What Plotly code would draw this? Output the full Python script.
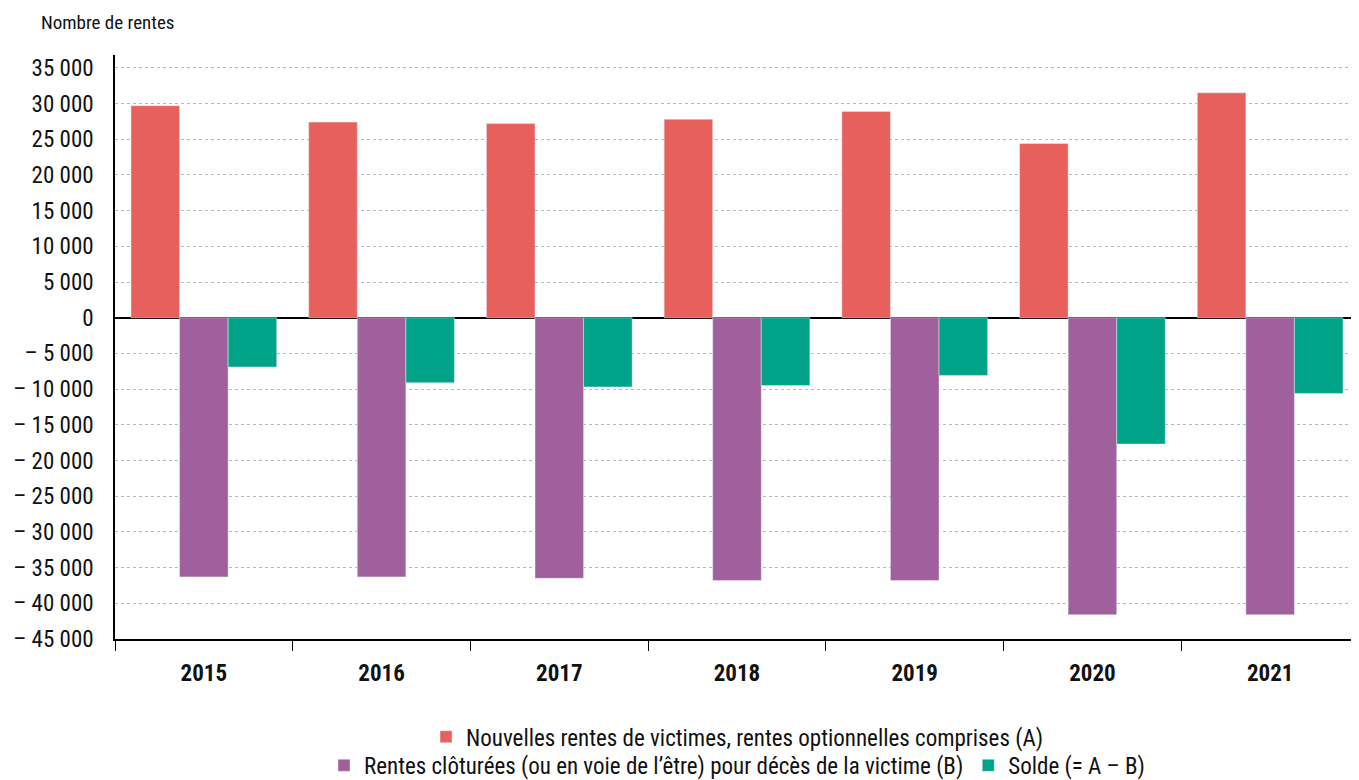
import plotly.graph_objects as go

years = ['2015', '2016', '2017', '2018', '2019', '2020', '2021']
nouvelles = [29700, 27400, 27200, 27800, 28900, 24400, 31500]
cloturees = [-36300, -36300, -36500, -36800, -36800, -41600, -41600]
solde = [-6900, -9100, -9700, -9500, -8100, -17700, -10600]

ytick_vals = [35000, 30000, 25000, 20000, 15000, 10000, 5000, 0, -5000, -10000,
              -15000, -20000, -25000, -30000, -35000, -40000, -45000]
ytick_text = ['35 000', '30 000', '25 000', '20 000', '15 000', '10 000', '5 000', '0',
              '\u2013 5 000', '\u2013 10 000', '\u2013 15 000', '\u2013 20 000', '\u2013 25 000',
              '\u2013 30 000', '\u2013 35 000', '\u2013 40 000', '\u2013 45 000']

FONT = 'Liberation Sans Narrow, Arial Narrow, Roboto Condensed, Liberation Sans, Arial'

fig = go.Figure()
fig.add_trace(go.Bar(x=years, y=nouvelles, name='Nouvelles rentes de victimes, rentes optionnelles comprises (A)',
                     marker={'color': '#e8605c'}, legend='legend'))
fig.add_trace(go.Bar(x=years, y=cloturees, name='Rentes clôturées (ou en voie de l\u2019être) pour décès de la victime (B)',
                     marker={'color': '#a0609c'}, legend='legend2'))
fig.add_trace(go.Bar(x=years, y=solde, name='Solde (= A \u2013 B)',
                     marker={'color': '#00a388'}, legend='legend2'))

# page body has an 8px margin, so the figure is 8px smaller than the window
fig.update_layout(
    width=1351, height=772,
    margin=dict(l=107, r=0, t=47, b=141),
    paper_bgcolor='white', plot_bgcolor='white',
    font=dict(family=FONT, size=23, color='#111111'),
    barmode='group', bargap=0.18, bargroupgap=0,
    showlegend=True,
    legend=dict(visible=True, orientation='h', xref='paper', x=0.5, xanchor='center',
                yref='container', y=0.056, yanchor='middle', bgcolor='rgba(0,0,0,0)',
                font=dict(size=23), traceorder='normal'),
    legend2=dict(visible=True, orientation='h', xref='paper', x=0.5, xanchor='center',
                 yref='container', y=0.019, yanchor='middle', bgcolor='rgba(0,0,0,0)',
                 font=dict(size=23), traceorder='normal'),
    annotations=[dict(text='Nombre de rentes', xref='paper', yref='paper', x=-0.061, y=1.0,
                      xanchor='left', yanchor='middle', yshift=33, showarrow=False,
                      font=dict(size=19, color='#111111'))],
)

fig.update_xaxes(
    type='category', showline=True, linecolor='black', linewidth=1.5,
    ticks='outside', tickson='boundaries', ticklen=10, tickcolor='black', tickwidth=1,
    ticklabelstandoff=13,
    tickfont=dict(size=23, color='#111111', weight='bold'), showgrid=False,
)
fig.update_yaxes(
    range=[-45000, 36800], tickvals=ytick_vals, ticktext=ytick_text,
    showline=True, linecolor='black', linewidth=1.5, ticks='',
    ticklabelstandoff=15,
    showgrid=True, gridcolor='#a9bfcc', griddash='dot', gridwidth=1,
    zeroline=True, zerolinecolor='black', zerolinewidth=1.5,
    tickfont=dict(size=23, color='#111111'),
)

fig.write_html('out.html')
